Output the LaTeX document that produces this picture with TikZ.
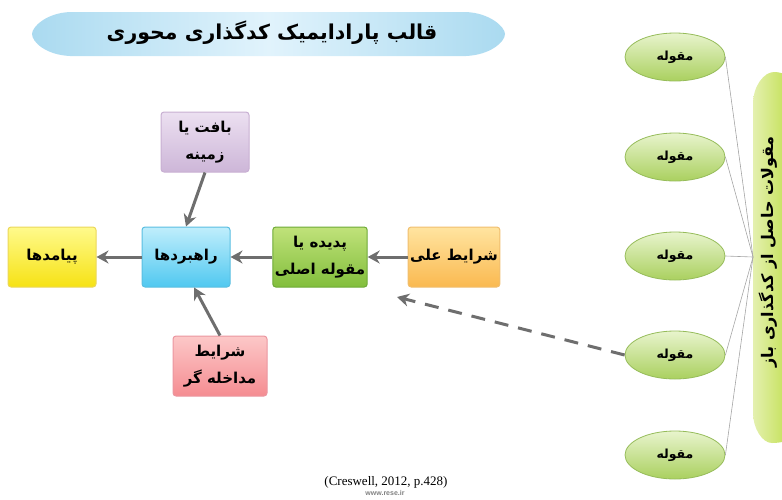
\documentclass[tikz,border=0pt]{standalone}
\usepackage{fontspec}
\usepackage{tikz}
\usetikzlibrary{arrows.meta,shapes.geometric}
\TeXXeTstate=1
\newfontfamily\fafont[Script=Arabic]{DejaVu Sans}
\newfontfamily\citefont{Liberation Serif}
\newfontfamily\webfont{Liberation Sans}
\newcommand{\fa}[1]{\beginR#1\endR}

\definecolor{arrowgray}{RGB}{110,110,110}
\definecolor{linkgray}{RGB}{165,165,165}
\definecolor{titleedge}{RGB}{170,218,240}
\definecolor{titlemid}{RGB}{225,243,252}
\definecolor{cattop}{RGB}{232,244,205}
\definecolor{catbot}{RGB}{170,208,95}
\definecolor{catline}{RGB}{150,188,90}
\definecolor{barlight}{RGB}{228,240,175}
\definecolor{bargreen}{RGB}{190,222,70}

\begin{document}
\begin{tikzpicture}[x=1pt,y=-1pt,
  box/.style={rectangle, rounded corners=3pt, minimum width=88pt, minimum height=60pt,
    inner sep=2pt, align=center, line width=1pt,
    font=\fafont\bfseries\fontsize{15}{27}\selectfont},
  cat/.style={ellipse, minimum width=100pt, minimum height=48pt, line width=0.8pt,
    draw=catline, top color=cattop, bottom color=catbot,
    font=\fafont\bfseries\fontsize{12.5}{14}\selectfont},
  flow/.style={-{Stealth[length=12pt,width=13pt]}, line width=3pt, draw=arrowgray},
  link/.style={draw=linkgray, line width=0.6pt}]
  \useasboundingbox (0,0) rectangle (782,499);

  % Title banner
  \shade[left color=titleedge, right color=titleedge, middle color=titlemid]
    (70,12) -- (466,12) .. controls (490,13) and (505,27) .. (505,34)
    .. controls (505,42) and (490,55) .. (466,56) -- (70,56)
    .. controls (46,55) and (32,42) .. (32,34)
    .. controls (32,27) and (46,13) .. (70,12) -- cycle;
  \node[font=\fafont\bfseries\fontsize{20.5}{22}\selectfont] (title) at (272,33)
    {\fa{قالب پارادایمیک کدگذاری محوری}};

  % Paradigm boxes
  \node[box, draw={rgb,255:red,200;green,175;blue,210},
    top color={rgb,255:red,236;green,224;blue,241}, bottom color={rgb,255:red,205;green,182;blue,216}]
    (ctx) at (205,142) {\fa{بافت یا}\\\fa{زمینه}};
  \node[box, draw={rgb,255:red,235;green,215;blue,90},
    top color={rgb,255:red,255;green,250;blue,140}, bottom color={rgb,255:red,246;green,226;blue,20}]
    (out) at (52,257) {\fa{پیامدها}};
  \node[box, draw={rgb,255:red,90;green,190;blue,225},
    top color={rgb,255:red,192;green,238;blue,252}, bottom color={rgb,255:red,80;green,200;blue,240}]
    (strat) at (186,257) {\fa{راهبردها}};
  \node[box, draw={rgb,255:red,110;green,170;blue,55},
    top color={rgb,255:red,192;green,226;blue,122}, bottom color={rgb,255:red,130;green,190;blue,60}]
    (core) at (320,257) {\fa{پدیده یا}\\\fa{مقوله اصلی}};
  \node[box, draw={rgb,255:red,240;green,190;blue,110},
    top color={rgb,255:red,255;green,228;blue,160}, bottom color={rgb,255:red,250;green,185;blue,80}]
    (causal) at (454,257) {\fa{شرایط علی}};
  \node[box, minimum width=94pt, draw={rgb,255:red,235;green,150;blue,160},
    top color={rgb,255:red,252;green,200;blue,200}, bottom color={rgb,255:red,245;green,140;blue,145}]
    (interv) at (220,366) {\fa{شرایط}\\\fa{مداخله گر}};

  % Arrows between boxes
  \draw[flow] (ctx.south) -- (strat.north);
  \draw[flow] (interv.north) -- (strat.-75);
  \draw[flow] (strat.west) -- (out.east);
  \draw[flow] (core.west) -- (strat.east);
  \draw[flow] (causal.west) -- (core.east);

  % Open coding categories
  \foreach \i/\y in {1/57,2/157,3/256,4/355,5/455}
    \node[cat] (cat\i) at (675,\y) {\fa{مقوله}};

  % Side bar
  \begin{scope}
    \clip (0,0) rectangle (782,499);
    \shade[left color=barlight, right color=bargreen]
      (753,104) .. controls (753,86) and (764,72) .. (774,72)
      .. controls (782,72) and (790,76) .. (795,80) -- (795,436)
      .. controls (790,441) and (780,443) .. (772,443)
      .. controls (762,443) and (753,428) .. (753,413) -- cycle;
  \end{scope}
  \node[rotate=90, font=\fafont\bfseries\fontsize{16}{18}\selectfont] (bar) at (768,252)
    {\fa{مقولات حاصل از کدگذاری باز}};

  % Links to the bar
  \coordinate (hub) at (753,257);
  \foreach \i in {1,...,5}
    \draw[link] (cat\i.east) -- (hub);

  % Dashed arrow
  \coordinate (dashend) at (397,297);
  \draw[flow, dash pattern=on 14pt off 10pt] (cat4.west) -- (dashend);

  % Source
  \node[font=\citefont\fontsize{13}{15}\selectfont] (cite) at (386,482) {(Creswell, 2012, p.428)};
  \node[font=\webfont\bfseries\fontsize{7}{8}\selectfont, text=gray] (web) at (385,493) {www.rese.ir};
\end{tikzpicture}
\end{document}
